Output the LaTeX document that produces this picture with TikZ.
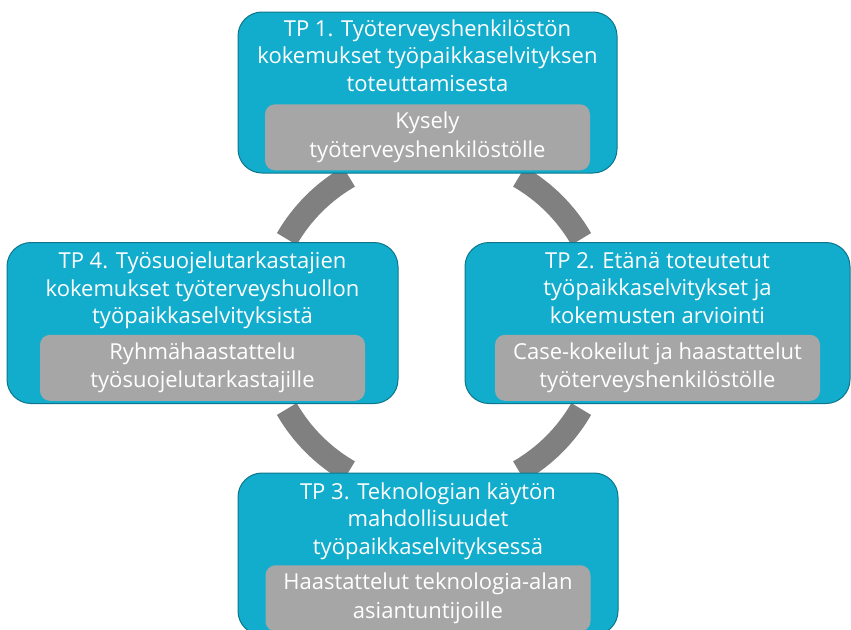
\documentclass[tikz,border=0pt]{standalone}
\usepackage{fontspec}
\setmainfont{Open Sans}
\usetikzlibrary{positioning}
\definecolor{TPTeal}{RGB}{18,172,204}
\definecolor{TPEdge}{RGB}{14,118,140}
\definecolor{TPGrey}{RGB}{166,166,166}
\definecolor{TPRing}{RGB}{128,128,128}
\tikzset{
  tpbox/.style={draw=TPEdge,line width=1pt,fill=TPTeal,rounded corners=24pt,
    minimum height=161pt,inner sep=0pt},
  tptitle/.style={text=white,align=center,inner sep=0pt,
    font=\fontsize{22}{27.5}\selectfont},
  subbox/.style={fill=TPGrey,rounded corners=10pt,minimum width=325pt,
    minimum height=66pt,text=white,align=center,inner sep=0pt,
    font=\fontsize{22}{28.5}\selectfont},
  ring/.style={draw=TPRing,line width=23pt}
}
\begin{document}
\begin{tikzpicture}[x=1pt,y=-1pt]
  \useasboundingbox (0,0) rectangle (851,629);
  \clip (0,0) rectangle (851,629);
  \coordinate (hub) at (434,324);
  % Ring behind the boxes
  \foreach \a in {30,120,210,300}
    \draw[ring] (hub) ++(\a:170) arc[start angle=\a,end angle=\a+30,radius=170];
  % TP 1
  \node[tpbox,minimum width=379pt] (tp1) at (427.5,92.5) {};
  \node[tptitle,below=8pt of tp1.north] (tp1t)
    {TP 1. Työterveyshenkilöstön\\kokemukset työpaikkaselvityksen\\toteuttamisesta};
  \node[subbox,above=3pt of tp1.south] (tp1s) {Kysely\\työterveyshenkilöstölle};
  % TP 2
  \node[tpbox,minimum width=385pt] (tp2) at (657.5,323) {};
  \node[tptitle,below=10pt of tp2.north] (tp2t)
    {TP 2. Etänä toteutetut\\työpaikkaselvitykset ja\\kokemusten arviointi};
  \node[subbox,above=3pt of tp2.south] (tp2s)
    {Case-kokeilut ja haastattelut\\työterveyshenkilöstölle};
  % TP 4
  \node[tpbox,minimum width=391pt] (tp4) at (202.5,323) {};
  \node[tptitle,below=10pt of tp4.north] (tp4t)
    {TP 4. Työsuojelutarkastajien\\kokemukset työterveyshuollon\\työpaikkaselvityksistä};
  \node[subbox,above=3pt of tp4.south] (tp4s)
    {Ryhmähaastattelu\\työsuojelutarkastajille};
  % TP 3
  \node[tpbox,minimum width=380pt,minimum height=162pt] (tp3) at (428,554) {};
  \node[tptitle,below=10pt of tp3.north] (tp3t)
    {TP 3. Teknologian käytön\\mahdollisuudet\\työpaikkaselvityksessä};
  \node[subbox,above=4pt of tp3.south] (tp3s)
    {Haastattelut teknologia-alan\\asiantuntijoille};
\end{tikzpicture}
\end{document}
